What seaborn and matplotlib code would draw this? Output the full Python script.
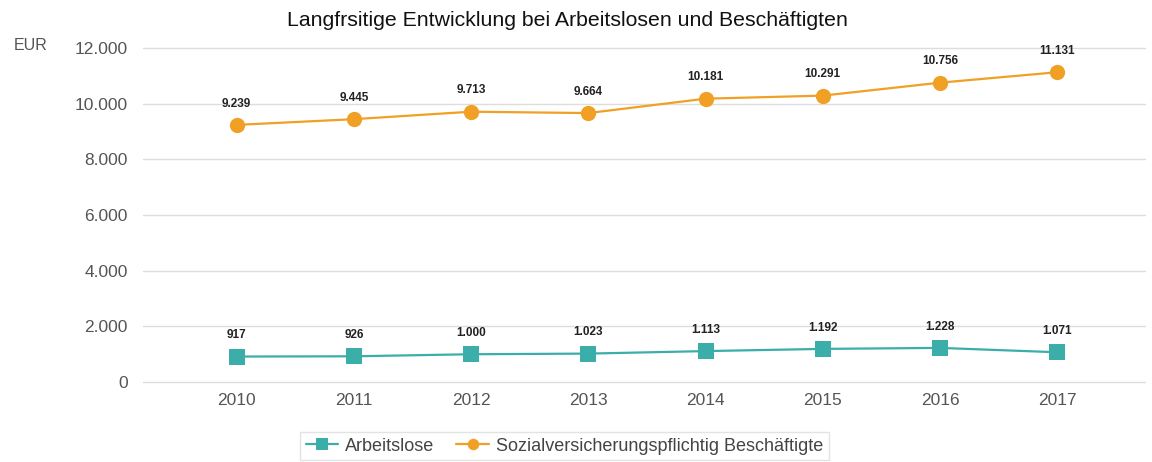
import matplotlib
matplotlib.use("Agg")
import matplotlib.pyplot as plt
import seaborn as sns
import pandas as pd

years = ["2010", "2011", "2012", "2013", "2014", "2015", "2016", "2017"]
arbeitslose = [917, 926, 1000, 1023, 1113, 1192, 1228, 1071]
beschaeftigte = [9239, 9445, 9713, 9664, 10181, 10291, 10756, 11131]
series_names = ["Arbeitslose", "Sozialversicherungspflichtig Beschäftigte"]
y_ticks = [0, 2000, 4000, 6000, 8000, 10000, 12000]

sns.set_style("white")
plt.rcParams["font.family"] = ["Liberation Sans", "DejaVu Sans"]

df = pd.DataFrame({
    "Jahr": years * 2,
    "Wert": arbeitslose + beschaeftigte,
    "Reihe": [series_names[0]] * len(years) + [series_names[1]] * len(years),
})

colors = {series_names[0]: "#3BAEAA", series_names[1]: "#F0A024"}
markers = {series_names[0]: "s", series_names[1]: "o"}

fig = plt.figure(figsize=(11.52, 4.62), dpi=100)
ax = fig.add_axes([0.124, 0.173, 0.870, 0.723])

sns.lineplot(data=df, x="Jahr", y="Wert", hue="Reihe", style="Reihe",
             palette=colors, markers=markers, dashes=False, markersize=11,
             markeredgewidth=0, linewidth=1.6, sort=False, ax=ax, legend=True)

def fmt(v):
    return f"{v:,}".replace(",", ".")

for vals in (arbeitslose, beschaeftigte):
    for i, v in enumerate(vals):
        ax.annotate(fmt(v), (i, v), xytext=(0, 11), textcoords="offset points",
                    ha="center", va="bottom", fontsize=8.5, fontweight="bold",
                    color="#222222")

ax.set_ylim(0, 12000)
ax.set_xlim(-0.8, 7.75)
ax.set_yticks(y_ticks)
ax.set_yticklabels([fmt(t) for t in y_ticks])
ax.grid(axis="y", color="#DDDDDD", linewidth=1)
for gl in ax.get_ygridlines():
    gl.set_clip_on(False)
ax.set_axisbelow(True)
for s in ax.spines.values():
    s.set_visible(False)
ax.tick_params(axis="both", length=0, labelsize=12.5, labelcolor="#555555")
ax.tick_params(axis="y", pad=11)
ax.tick_params(axis="x", pad=8)
ax.set_xlabel("")
ax.set_ylabel("")

fig.text(0.012, 0.902, "EUR", fontsize=11.5, color="#555555", va="center")
fig.text(0.493, 0.955, "Langfrsitige Entwicklung bei Arbeitslosen und Beschäftigten",
         fontsize=15.3, color="#111111", ha="center", va="center")

handles, labels = ax.get_legend_handles_labels()
ax.legend(handles, labels, loc="center", bbox_to_anchor=(0.49, 0.034),
          bbox_transform=fig.transFigure, ncol=2, frameon=True, fontsize=13,
          markerscale=0.75, handlelength=1.8, handletextpad=0.4,
          columnspacing=1.2, borderpad=0.3, edgecolor="#DDDDDD",
          fancybox=False, labelcolor="#444444")

fig.savefig("out.png", dpi=100, facecolor="white")
